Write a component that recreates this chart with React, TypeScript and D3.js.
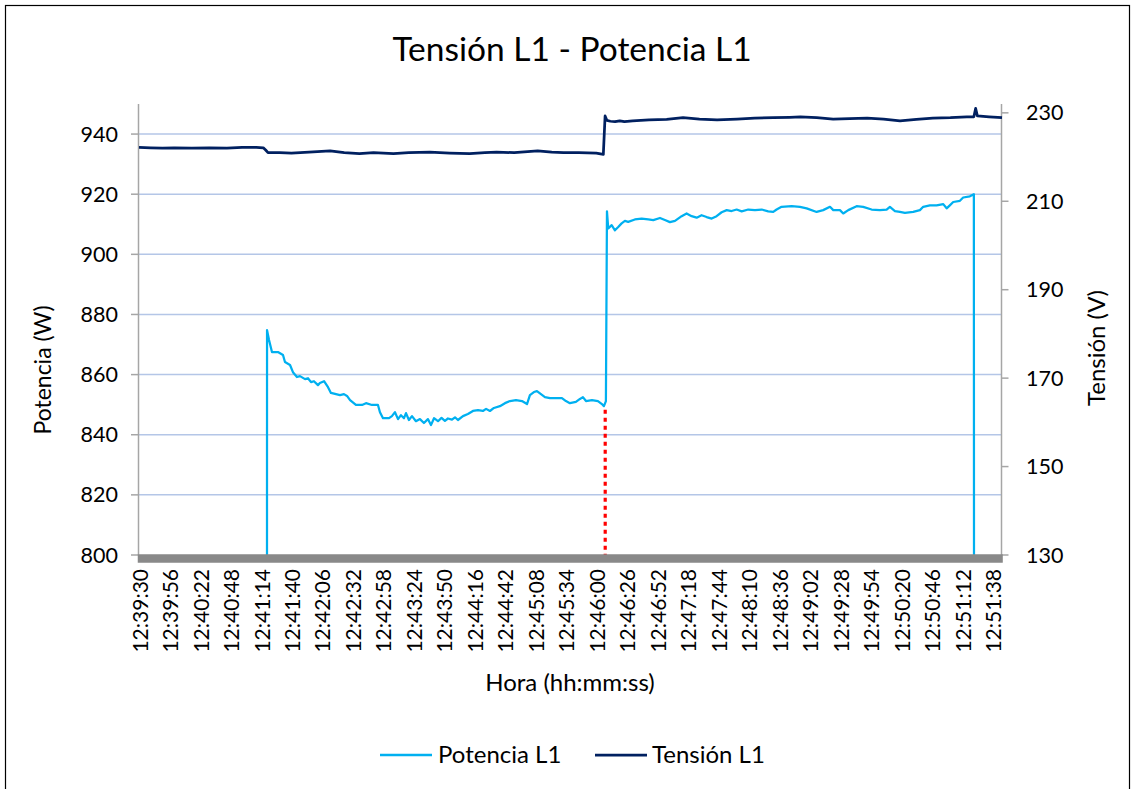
import React from "react";
import * as d3 from "d3";

// ---------- data ----------
const totalSeconds = 736; // 12:39:30 .. 12:51:46, one sample per second

const xTickLabels = [
  "12:39:30", "12:39:56", "12:40:22", "12:40:48", "12:41:14", "12:41:40", "12:42:06",
  "12:42:32", "12:42:58", "12:43:24", "12:43:50", "12:44:16", "12:44:42", "12:45:08",
  "12:45:34", "12:46:00", "12:46:26", "12:46:52", "12:47:18", "12:47:44", "12:48:10",
  "12:48:36", "12:49:02", "12:49:28", "12:49:54", "12:50:20", "12:50:46", "12:51:12",
  "12:51:38",
];

const powerTicks = [800, 820, 840, 860, 880, 900, 920, 940];
const voltTicks = [130, 150, 170, 190, 210, 230];

// Potencia L1: seconds after 12:39:30, watts
const powerSec = [
  0, 108.8, 109.2, 110.9, 113.4, 118.5, 122.8, 124.5, 128.8, 131.3, 134.7, 137.3, 141.6,
  144.1, 146.7, 149.2, 152.6, 154.3, 157.8, 161.2, 163.7, 168.0, 171.4, 174.8, 177.4,
  180.0, 185.0, 190.2, 193.6, 198.7, 203.8, 205.5, 208.1, 213.2, 215.7, 218.3, 220.9,
  223.4, 226.0, 227.7, 230.2, 232.8, 236.2, 239.6, 243.0, 246.4, 249.0, 251.6, 255.0,
  258.0, 260.9, 263.5, 266.9, 269.5, 272.0, 276.3, 280.5, 284.8, 289.1, 293.3, 296.0,
  299.3, 302.7, 307.8, 312.1, 316.4, 321.5, 326.6, 330.9, 333.4, 336.8, 339.4, 342.8,
  346.2, 350.5, 355.6, 360.7, 364.1, 367.5, 372.6, 376.1, 378.6, 381.2, 386.3, 391.4,
  394.8, 396.5, 398.2, 399.1,
  400.2, 403.1, 405.9, 408.7, 411.6, 414.4, 417.2, 422.9, 428.7, 434.3, 438.6, 444.3,
  448.5, 452.8, 457.1, 462.8, 467.0, 471.3, 475.6, 479.8, 484.1, 488.4, 492.6, 496.9,
  501.2, 505.4, 509.7, 514.0, 519.6, 525.3, 531.0, 536.6, 540.9, 543.8, 548.0, 556.6,
  563.7, 569.4, 577.9, 583.5, 589.3, 592.1, 597.8, 600.6, 604.9, 612.0, 617.6, 624.8,
  631.9, 637.6, 640.4, 644.7, 648.9, 653.2, 660.3, 666.0, 668.8, 674.5, 680.2, 685.9,
  688.8, 691.5, 694.4, 700.1, 702.9, 708.6, 712.0, 712.9, 736,
];
const powerW = [
  0, 0, 874.8, 871.5, 867.5, 867.5, 866.5, 864.2, 863.2, 860.8, 859.2, 859.5, 858.5,
  858.8, 857.5, 857.8, 856.5, 857.2, 857.8, 855.8, 853.9, 853.5, 853.2, 853.5, 852.9,
  851.5, 849.9, 849.9, 850.5, 849.9, 849.9, 847.5, 845.5, 845.5, 846.2, 847.5, 845.2,
  846.5, 845.5, 847.2, 844.9, 846.2, 844.5, 845.2, 843.9, 845.2, 843.2, 845.5, 844.5,
  845.6, 844.6, 845.4, 845.0, 845.8, 844.9, 846.2, 846.9, 847.9, 848.2, 847.9, 848.6,
  847.9, 848.9, 849.5, 850.5, 851.2, 851.5, 851.2, 850.2, 853.2, 854.2, 854.5, 853.5,
  852.5, 852.2, 852.2, 852.2, 851.2, 850.5, 850.9, 851.9, 852.5, 851.2, 851.5, 851.2,
  850.2, 849.5, 851.2, 914.3,
  908.6, 909.7, 908.0, 909.1, 910.3, 911.1, 910.8, 911.6, 911.9, 911.6, 911.4, 912.1,
  911.4, 910.7, 911.1, 912.7, 913.6, 912.7, 912.2, 913.0, 912.4, 911.9, 912.7, 914.0,
  914.7, 914.4, 914.9, 914.3, 914.9, 914.7, 914.9, 914.3, 914.1, 914.9, 915.8, 916.0,
  915.8, 915.3, 914.1, 914.7, 915.8, 914.7, 914.7, 913.6, 914.7, 916.0, 915.8, 914.9,
  914.7, 914.9, 915.8, 914.4, 914.1, 913.8, 914.1, 914.7, 915.8, 916.3, 916.3, 916.7,
  915.3, 916.3, 917.4, 917.8, 918.9, 919.3, 920.0, 0, 0,
];

// Tensión L1: seconds after 12:39:30, volts
const voltSec = [
  0, 10, 20, 30, 45, 60, 75, 88, 100, 106, 108, 110, 120, 130, 145, 163, 175, 188, 200,
  217, 230, 248, 265, 282, 295, 305, 320, 340, 352, 362, 375, 390, 396, 397.5, 399, 402,
  406, 410, 414, 421, 435, 450, 464, 478, 493, 510, 525, 541, 555, 564, 578, 592, 606,
  621, 635, 649, 663, 677, 692, 706, 712, 713.5, 715, 725, 736,
];
const voltV = [
  222.2, 222.1, 222.0, 222.1, 222.0, 222.1, 222.0, 222.2, 222.2, 222.1, 221.6, 221.0,
  221.0, 220.9, 221.1, 221.4, 221.0, 220.8, 221.0, 220.8, 221.0, 221.1, 220.9, 220.8,
  221.0, 221.1, 221.0, 221.4, 221.1, 221.0, 221.0, 220.9, 220.6, 229.3, 228.3, 228.1,
  228.0, 228.2, 228.0, 228.2, 228.4, 228.5, 228.9, 228.6, 228.4, 228.6, 228.8, 228.9,
  229.0, 229.1, 228.9, 228.6, 228.7, 228.8, 228.6, 228.2, 228.5, 228.8, 228.9, 229.1,
  229.1, 231.0, 229.3, 229.1, 228.9,
];

// red dotted marker (switch instant)
const markerSec = [397.6];
const markerTopW = [848.3];

// ---------- layout ----------
const W = 1132;
const H = 789;
const plot = { left: 138.5, right: 1001.5, top: 104, bottom: 555 };
const FONT = "Lato, 'Open Sans', 'Noto Sans', sans-serif";

const powerColor = "#00b0f0";
const voltColor = "#002060";

export default function App() {
  const x = d3.scaleLinear().domain([0, totalSeconds]).range([139, 1002]);
  const yP = d3.scaleLinear().domain([800, 950]).range([plot.bottom, plot.top]);
  const yV = d3.scaleLinear().domain([130, 232]).range([plot.bottom, plot.top]);

  const powerData = powerSec.map((s, i) => [s, powerW[i]] as [number, number]);
  const voltData = voltSec.map((s, i) => [s, voltV[i]] as [number, number]);

  const powerLine = d3
    .line<[number, number]>()
    .x((d) => x(d[0]))
    .y((d) => yP(d[1]));
  const voltLine = d3
    .line<[number, number]>()
    .x((d) => x(d[0]))
    .y((d) => yV(d[1]));

  const labelSec = xTickLabels.map((_, i) => i * 26);

  return (
    <div style={{ position: "absolute", left: 0, top: 0, width: W, height: H, background: "#fff" }}>
      <svg width={W} height={H} style={{ display: "block", fontFamily: FONT }}>
        <rect x={0} y={0} width={W} height={H} fill="#fff" />
        <rect x={5.5} y={5.5} width={1124} height={800} fill="none" stroke="#000" strokeWidth={1.2} />

        <defs>
          <clipPath id="plotClip">
            <rect x={plot.left} y={plot.top - 10} width={plot.right - plot.left + 2} height={plot.bottom - plot.top + 10} />
          </clipPath>
        </defs>

        {/* title */}
        <text x={572} y={61} textAnchor="middle" fontSize={33.5} fill="#000">
          Tensión L1 - Potencia L1
        </text>

        {/* gridlines */}
        {powerTicks.slice(1).map((t) => (
          <line key={"g" + t} x1={plot.left} x2={plot.right} y1={yP(t)} y2={yP(t)} stroke="#b4c6e7" strokeWidth={1.5} />
        ))}

        {/* left axis */}
        <line x1={plot.left} x2={plot.left} y1={plot.top} y2={plot.bottom} stroke="#a6a6a6" strokeWidth={1.5} />
        {powerTicks.map((t) => (
          <g key={"pl" + t}>
            <line x1={131} x2={plot.left} y1={yP(t)} y2={yP(t)} stroke="#a6a6a6" strokeWidth={1.5} />
            <text x={118} y={yP(t)} dy="0.35em" textAnchor="end" fontSize={21.5} fill="#000">
              {t}
            </text>
          </g>
        ))}

        {/* right axis */}
        <line x1={plot.right} x2={plot.right} y1={plot.top} y2={plot.bottom + 7} stroke="#a6a6a6" strokeWidth={1.5} />
        {voltTicks.map((t) => (
          <g key={"vr" + t}>
            <line x1={plot.right} x2={plot.right + 7} y1={yV(t)} y2={yV(t)} stroke="#a6a6a6" strokeWidth={1.5} />
            <text x={1026} y={yV(t)} dy="0.35em" textAnchor="start" fontSize={21.5} fill="#000">
              {t}
            </text>
          </g>
        ))}

        {/* series */}
        <g clipPath="url(#plotClip)">
          <path d={voltLine(voltData) || ""} fill="none" stroke={voltColor} strokeWidth={2.75} strokeLinejoin="round" />
          <path d={powerLine(powerData) || ""} fill="none" stroke={powerColor} strokeWidth={2.25} strokeLinejoin="round" />
        </g>

        {/* red dotted marker */}
        {markerSec.map((s, i) => (
          <line
            key={"m" + i}
            x1={x(s)}
            x2={x(s)}
            y1={yP(markerTopW[i])}
            y2={plot.bottom}
            stroke="#ff0000"
            strokeWidth={3.2}
            strokeDasharray="4 4"
          />
        ))}

        {/* category axis: dense per-second tick marks render as a solid band */}
        <rect
          x={plot.left - 0.75}
          y={plot.bottom - 0.75}
          width={x(totalSeconds) - plot.left + 1.5}
          height={8.5}
          fill="#898989"
        />

        {/* x tick labels */}
        {xTickLabels.map((lab, i) => (
          <text
            key={"xl" + i}
            transform={`translate(${x(labelSec[i]) + 1},569) rotate(-90)`}
            textAnchor="end"
            dy="0.36em"
            fontSize={21}
            fill="#000"
          >
            {lab}
          </text>
        ))}

        {/* axis titles */}
        <text x={570} y={691} textAnchor="middle" fontSize={24} fill="#000">
          Hora (hh:mm:ss)
        </text>
        <text transform="translate(43,370) rotate(-90)" textAnchor="middle" dy="0.35em" fontSize={23} fill="#000">
          Potencia (W)
        </text>
        <text transform="translate(1097,348) rotate(-90)" textAnchor="middle" dy="0.35em" fontSize={24} fill="#000">
          Tensión (V)
        </text>

        {/* legend */}
        <line x1={380} x2={432} y1={755} y2={755} stroke={powerColor} strokeWidth={2.5} />
        <text x={438} y={755} dy="0.35em" fontSize={24} fill="#000">
          Potencia L1
        </text>
        <line x1={595} x2={647} y1={755} y2={755} stroke={voltColor} strokeWidth={2.75} />
        <text x={652} y={755} dy="0.35em" fontSize={24} fill="#000">
          Tensión L1
        </text>
      </svg>
    </div>
  );
}
